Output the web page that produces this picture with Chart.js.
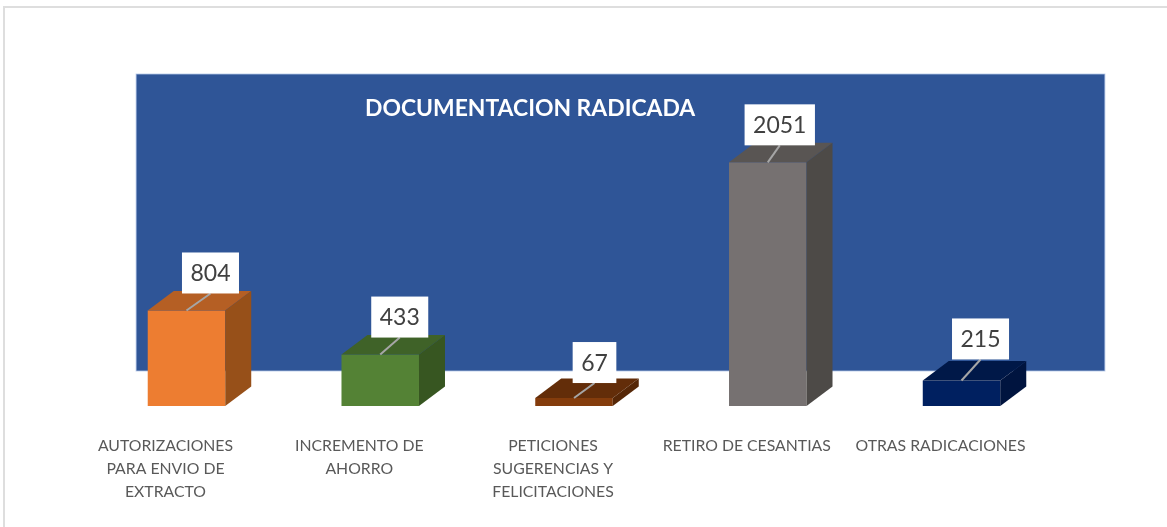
<!DOCTYPE html>
<html>
<head>
<meta charset="utf-8">
<title>Documentacion radicada</title>
<script src="https://cdn.jsdelivr.net/npm/chart.js@4/dist/chart.umd.js"></script>
<style>
  html, body { margin: 0; padding: 0; background: #fff; overflow: hidden; }
  #wrap { width: 1167px; height: 527px; }
</style>
</head>
<body>
<div id="wrap"><canvas id="chart" width="1167" height="527"></canvas></div>
<script>
// data
const chartTitle = "DOCUMENTACION RADICADA";
const categories = [
  ["AUTORIZACIONES", "PARA ENVIO DE", "EXTRACTO"],
  ["INCREMENTO DE", "AHORRO"],
  ["PETICIONES", "SUGERENCIAS Y", "FELICITACIONES"],
  ["RETIRO DE CESANTIAS"],
  ["OTRAS RADICACIONES"]
];
const values = [804, 433, 67, 2051, 215];

// face colours per bar
const frontColors = ["#ED7D31", "#548235", "#843C0C", "#767171", "#002060"];
const topColors = ["#B55F24", "#3F6228", "#632D09", "#595553", "#001848"];
const sideColors = ["#975019", "#375621", "#562707", "#4D4A47", "#00143F"];

// how far each label box was dragged away from its bar, as in the original
const labelShift = [24, 19.5, 20.5, 12, 19];
const labelRise = [17, 17, 15, 17, 21];

// 3d look
const DEPTH_X = 26, DEPTH_Y = 19.5;       // bar depth
const WALL_X = 46.5, WALL_Y = 35;         // back wall offset from the plot area
const FONT = "Lato, 'Open Sans', sans-serif";

function fillPoly(ctx, pts, color) {
  ctx.fillStyle = color;
  ctx.beginPath();
  ctx.moveTo(pts[0][0], pts[0][1]);
  for (let i = 1; i < pts.length; i++) ctx.lineTo(pts[i][0], pts[i][1]);
  ctx.closePath();
  ctx.fill();
}

const fake3d = {
  id: "fake3d",
  // outer frame, wall and title sit behind the bars
  beforeDatasetsDraw(chart) {
    const { ctx, chartArea: a } = chart;
    ctx.save();
    ctx.strokeStyle = "#DEDEDE";
    ctx.lineWidth = 2;
    ctx.strokeRect(4, 7, 1300, 700);

    ctx.fillStyle = "#2F5597";
    ctx.fillRect(a.left + WALL_X, a.top - WALL_Y, a.width, a.height);
    ctx.strokeStyle = "rgba(180,199,231,0.8)";
    ctx.lineWidth = 1;
    ctx.strokeRect(a.left + WALL_X, a.top - WALL_Y, a.width, a.height);

    ctx.fillStyle = "#fff";
    ctx.font = "bold 22.9px " + FONT;
    ctx.textAlign = "left";
    ctx.textBaseline = "middle";
    ctx.fillText(chartTitle, 365, 108.5);
    ctx.restore();
  },
  // top and side faces, then the value boxes with their leader lines
  afterDatasetsDraw(chart) {
    const { ctx } = chart;
    const bars = chart.getDatasetMeta(0).data;
    ctx.save();
    bars.forEach((b, i) => {
      const l = b.x - b.width / 2, r = b.x + b.width / 2;
      fillPoly(ctx, [[l, b.y], [r, b.y], [r + DEPTH_X, b.y - DEPTH_Y], [l + DEPTH_X, b.y - DEPTH_Y]], topColors[i]);
      fillPoly(ctx, [[r, b.y], [r + DEPTH_X, b.y - DEPTH_Y], [r + DEPTH_X, b.base - DEPTH_Y], [r, b.base]], sideColors[i]);
    });
    ctx.font = "23px " + FONT;
    ctx.textAlign = "center";
    ctx.textBaseline = "middle";
    bars.forEach((b, i) => {
      const txt = String(values[i]);
      const w = ctx.measureText(txt).width + 17;
      const h = 41;
      const cx = b.x + labelShift[i];
      const bottom = b.y - labelRise[i];
      ctx.strokeStyle = "#A6A6A6";
      ctx.lineWidth = 2;
      ctx.beginPath();
      ctx.moveTo(b.x, b.y);
      ctx.lineTo(cx, bottom);
      ctx.stroke();
      ctx.fillStyle = "#fff";
      ctx.fillRect(cx - w / 2, bottom - h, w, h);
      ctx.fillStyle = "#404040";
      ctx.fillText(txt, cx, bottom - h / 2 + 1);
    });
    ctx.restore();
  }
};

new Chart(document.getElementById("chart").getContext("2d"), {
  type: "bar",
  data: {
    labels: categories,
    datasets: [{
      data: values,
      backgroundColor: frontColors,
      borderWidth: 0,
      barPercentage: 0.4,
      categoryPercentage: 1
    }]
  },
  options: {
    responsive: false,
    animation: false,
    layout: { padding: { left: 89.6, right: 108.6, top: 109, bottom: 0 } },
    plugins: { legend: { display: false }, tooltip: { enabled: false } },
    scales: {
      x: {
        grid: { display: false },
        border: { display: false },
        afterFit(scale) { scale.height = 121; },
        ticks: {
          autoSkip: false,
          maxRotation: 0,
          padding: 20,
          labelOffset: -21,
          color: "#595959",
          font: { family: FONT, size: 15.8, lineHeight: "23px" }
        }
      },
      y: { display: false, min: 0, max: 2500 }
    }
  },
  plugins: [fake3d]
});
</script>
</body>
</html>
